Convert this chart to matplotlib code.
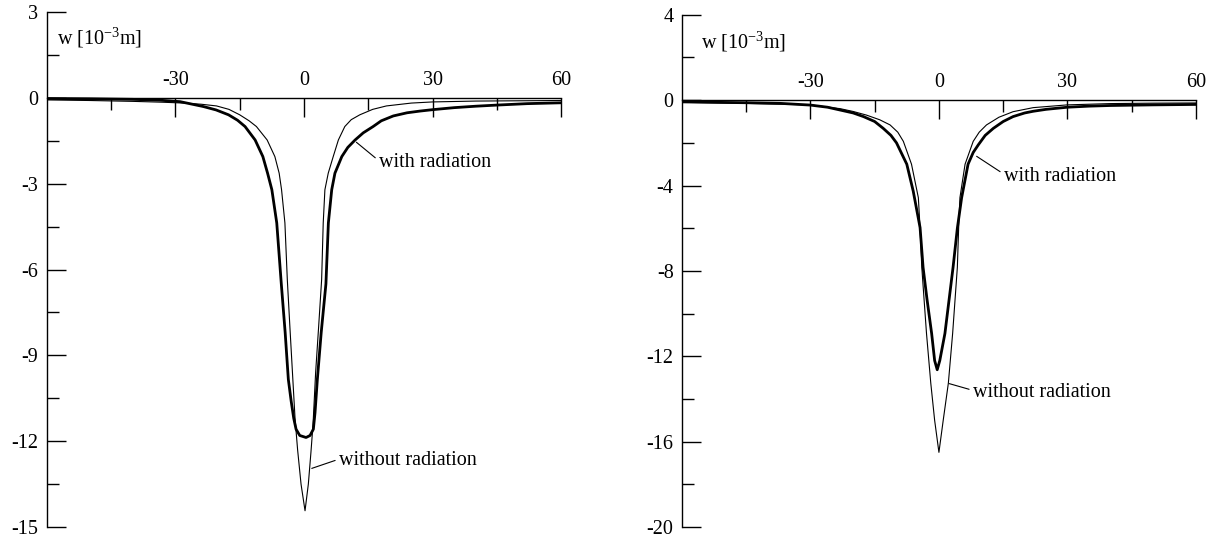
import matplotlib
matplotlib.use("Agg")
import matplotlib.pyplot as plt
from matplotlib import ticker

# =========================
# 1) data (x, w in 10^-3 m)
# =========================
# left panel
left_x_with = [-60, -50, -40, -33.6, -28.9, -23.5, -20.5, -17.6, -15.5, -13.75, -11.4, -9.6, -8.5, -7.5,
               -6.36, -5.3, -4.4, -3.66, -3.0, -2.4, -1.86, -1.0, 0.47, 1.4, 2.17, 2.56, 3.1, 4.0, 5.1,
               5.67, 6.45, 7.2, 8.8, 10.2, 11.9, 13.8, 16.1, 18, 20.8, 24, 27, 30, 35, 40, 45, 52, 60]
left_w_with = [-0.02, -0.03, -0.05, -0.08, -0.13, -0.3, -0.42, -0.59, -0.78, -1.0, -1.47, -2.05, -2.63, -3.21,
               -4.37, -6.5, -8.2, -9.84, -10.6, -11.2, -11.58, -11.8, -11.87, -11.8, -11.58, -11.0, -9.84, -8.2, -6.5,
               -4.37, -3.21, -2.63, -2.05, -1.73, -1.47, -1.22, -1.0, -0.8, -0.63, -0.52, -0.46, -0.41, -0.34,
               -0.29, -0.25, -0.2, -0.17]

left_x_without = [-60, -50, -40, -33, -28, -24, -20.4, -17.5, -15.0, -12.8, -11.1, -8.6, -6.8, -5.8, -5.24, -4.46,
                  -3.9, -3.3, -2.7, -2.1, -1.5, -0.7, 0.23, 1.0, 1.6, 2.1, 2.7, 3.4, 4.1, 4.47, 4.86,
                  5.64, 6.8, 8.0, 9.5, 11.0, 13.0, 16.0, 19.2, 25, 30, 40, 50, 60]
left_w_without = [-0.07, -0.09, -0.12, -0.15, -0.18, -0.22, -0.28, -0.4, -0.59, -0.8, -1.0, -1.47, -2.05, -2.63, -3.21, -4.37,
                  -6.35, -8.0, -9.6, -11.2, -12.3, -13.5, -14.43, -13.5, -12.4, -11.4, -9.6, -8.0, -6.35, -4.37, -3.21,
                  -2.63, -2.05, -1.47, -1.0, -0.76, -0.59, -0.4, -0.28, -0.18, -0.14, -0.11, -0.1, -0.09]

# right panel
right_x_with = [-60, -45, -37, -30, -26, -23.1, -20, -17.6, -15, -13.0, -11.2, -9.9, -7.5, -6.0, -4.4, -3.7,
                -2.8, -1.7, -1.0, -0.4, 0.2, 1.4, 2.4, 3.3, 4.3, 5.3, 6.8, 8.0, 9.2, 10.8, 12.7, 15, 17.3,
                20, 22, 25, 30, 35, 40, 50, 60]
right_w_with = [-0.08, -0.12, -0.15, -0.23, -0.33, -0.46, -0.6, -0.77, -1.0, -1.32, -1.65, -2.0, -3.0, -4.26,
                -5.97, -7.83, -9.3, -10.93, -12.2, -12.63, -12.2, -10.93, -9.3, -7.83, -6.0, -4.57, -3.0, -2.45,
                -2.09, -1.65, -1.32, -1.0, -0.77, -0.6, -0.52, -0.43, -0.33, -0.28, -0.25, -0.22, -0.2]

right_x_without = [-60, -45, -30, -23, -20, -16.9, -13.8, -11.4, -9.6, -8.3, -6.4, -4.8, -4.4, -4.0, -2.9, -1.9,
                   -1.0, 0.0, 1.0, 2.2, 3.2, 4.3, 4.6, 4.9, 6.1, 8.0, 9.4, 11.1, 14, 17.3, 22, 30, 40, 50, 60]
right_w_without = [-0.1, -0.15, -0.22, -0.4, -0.53, -0.7, -0.92, -1.16, -1.5, -1.93, -3.0, -4.57, -6.0, -7.83,
                   -10.93, -13.26, -15.0, -16.5, -15.0, -13.26, -10.93, -7.83, -6.0, -4.57, -3.0, -1.93, -1.5,
                   -1.16, -0.8, -0.54, -0.35, -0.22, -0.16, -0.14, -0.13]

x_major = [-30, 0, 30, 60]
x_minor = [-45, -15, 15, 45]

# =========================
# 2) global style
# =========================
plt.rcParams.update({
    "font.family": ["Liberation Serif", "DejaVu Serif"],
    "font.size": 14.5,
    "mathtext.fontset": "custom",
    "mathtext.rm": "Liberation Serif",
    "mathtext.it": "Liberation Serif:italic",
    "axes.unicode_minus": False,
})


def draw_panel(ax, xw, ww, xo, wo, ylim, ystep, unit_pos, lab_with, lab_without):
    ax.plot(xo, wo, color="black", linewidth=0.8)
    ax.plot(xw, ww, color="black", linewidth=2.0)

    ax.set_xlim(-60, 60)
    ax.set_ylim(*ylim)

    # axis frame: y axis on the left, x axis through w = 0
    ax.spines["top"].set_position(("data", 0))
    ax.spines["bottom"].set_visible(False)
    ax.spines["right"].set_visible(False)
    for s in ("top", "left"):
        ax.spines[s].set_linewidth(1.0)

    ax.xaxis.tick_top()
    ax.xaxis.set_major_locator(ticker.FixedLocator(x_major))
    ax.xaxis.set_minor_locator(ticker.FixedLocator(x_minor))
    ax.xaxis.set_major_formatter(ticker.FormatStrFormatter("%d"))

    ax.yaxis.tick_left()
    ax.yaxis.set_major_locator(ticker.MultipleLocator(ystep))
    ax.yaxis.set_minor_locator(ticker.MultipleLocator(ystep / 2))
    ax.yaxis.set_major_formatter(ticker.FormatStrFormatter("%d"))

    ax.tick_params(which="both", direction="in", width=1.0)
    ax.tick_params(which="major", length=13.5, pad=6)
    ax.tick_params(which="minor", length=8.5)

    ax.text(unit_pos[0], unit_pos[1], r"w [10$^{\mathregular{-3}}$m]", ha="left", va="center")

    for (pt, txt_pt, txt) in ((lab_with[0], lab_with[1], "with radiation"),
                              (lab_without[0], lab_without[1], "without radiation")):
        ax.annotate(txt, xy=pt, xytext=txt_pt, ha="left", va="center",
                    arrowprops=dict(arrowstyle="-", lw=0.8, color="black",
                                    relpos=(0, 0.6), shrinkA=1, shrinkB=0))


# =========================
# 3) figure
# =========================
fig = plt.figure(figsize=(12.07, 5.4), dpi=100)
ax1 = fig.add_axes([0.0386, 0.024, 0.4266, 0.9536])
ax2 = fig.add_axes([0.5649, 0.024, 0.426, 0.9486])

draw_panel(ax1, left_x_with, left_w_with, left_x_without, left_w_without,
           (-15, 3), 3, (-57.6, 2.09),
           ((12.2, -1.55), (17.5, -2.27)), ((1.8, -12.95), (8.2, -12.69)))
draw_panel(ax2, right_x_with, right_w_with, right_x_without, right_w_without,
           (-20, 4), 4, (-55.6, 2.74),
           ((8.8, -2.63), (15.2, -3.56)), ((2.4, -13.28), (8.0, -13.69)))

fig.savefig("out.png", dpi=100)
